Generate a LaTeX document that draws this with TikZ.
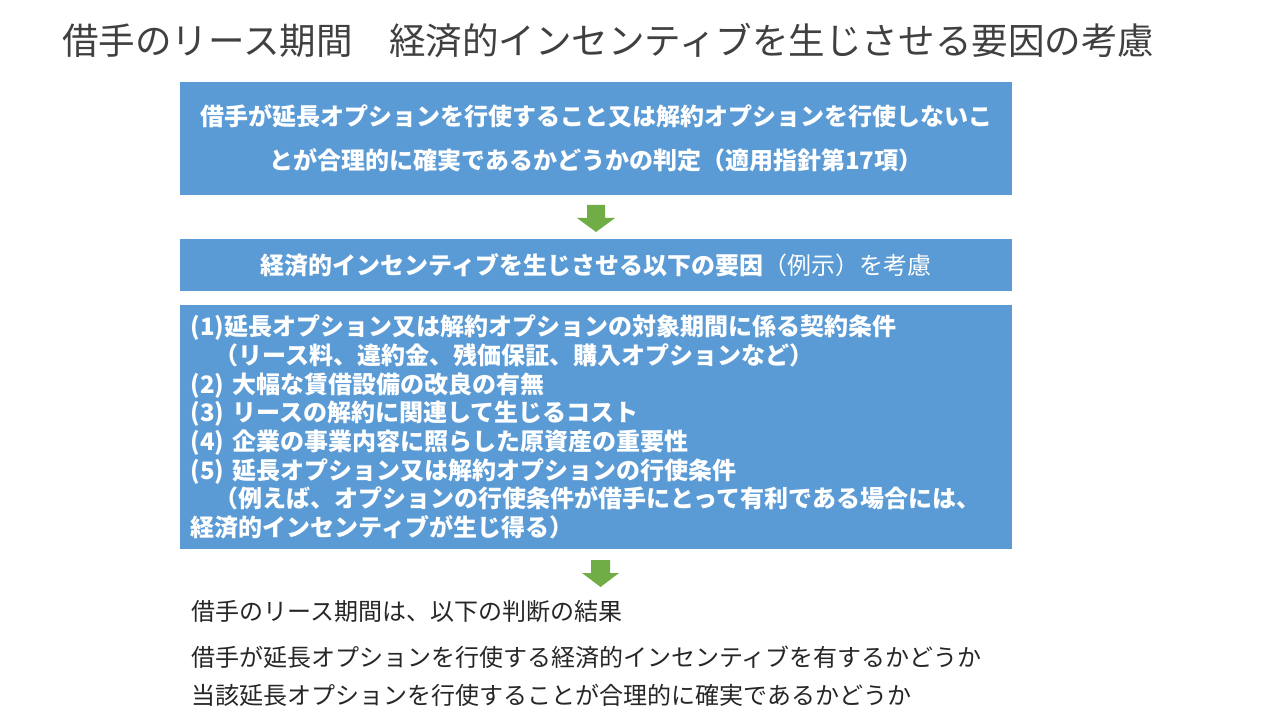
\documentclass[tikz,border=0pt]{standalone}
\usepackage{fontspec}
\setmainfont{Noto Sans CJK JP}
\definecolor{boxblue}{HTML}{5B9BD5}
\definecolor{arrgreen}{HTML}{70AD47}
\definecolor{titlegray}{HTML}{404040}
\definecolor{bodytext}{HTML}{262626}
\begin{document}
\begin{tikzpicture}[x=0.75pt,y=-0.75pt,
  bluebox/.style={fill=boxblue,draw=none,text=white,minimum width=624pt,inner sep=0pt,outer sep=0pt},
  plaintext/.style={anchor=west,inner sep=0pt,text=bodytext,font=\fontsize{18}{21}\selectfont},
  greenarrow/.style={fill=arrgreen,draw=none}]
\useasboundingbox (0,0) rectangle (1280,720);
\node[anchor=west,inner sep=0pt,text=titlegray,font=\fontsize{27.4}{32}\selectfont] (title) at (62,40) {借手のリース期間　経済的インセンティブを生じさせる要因の考慮};
\node[bluebox,minimum height=84.75pt,align=center,font=\fontsize{18}{33}\selectfont\bfseries] (b1) at (596,138.5)
 {借手が延長オプションを行使すること又は解約オプションを行使しないこ\\とが合理的に確実であるかどうかの判定（適用指針第17項）};
\node[bluebox,minimum height=39pt,font=\fontsize{18}{21}\selectfont] (b2) at (596,265)
 {{\bfseries 経済的インセンティブを生じさせる以下の要因}（例示）を考慮};
\node[bluebox,minimum height=183pt,text width=608pt,align=left,font=\fontsize{18}{21.5}\selectfont\bfseries] (b3) at (596,427)
 {(1)延長オプション又は解約オプションの対象期間に係る契約条件\\
 　（リース料、違約金、残価保証、購入オプションなど）\\
 (2) 大幅な賃借設備の改良の有無\\
 (3) リースの解約に関連して生じるコスト\\
 (4) 企業の事業内容に照らした原資産の重要性\\
 (5) 延長オプション又は解約オプションの行使条件\\
 　（例えば、オプションの行使条件が借手にとって有利である場合には、\\
 経済的インセンティブが生じ得る）};
\fill[greenarrow] (587,205) -- (605,205) -- (605,218) -- (615,218) -- (596,232) -- (577,218) -- (587,218) -- cycle;
\fill[greenarrow] (591,560) -- (610,560) -- (610,573) -- (619,573) -- (600.5,587) -- (582,573) -- (591,573) -- cycle;
\node[plaintext] (t1) at (191,611) {借手のリース期間は、以下の判断の結果};
\node[plaintext] (t2) at (191,657) {借手が延長オプションを行使する経済的インセンティブを有するかどうか};
\node[plaintext] (t3) at (191,695) {当該延長オプションを行使することが合理的に確実であるかどうか};
\end{tikzpicture}
\end{document}
